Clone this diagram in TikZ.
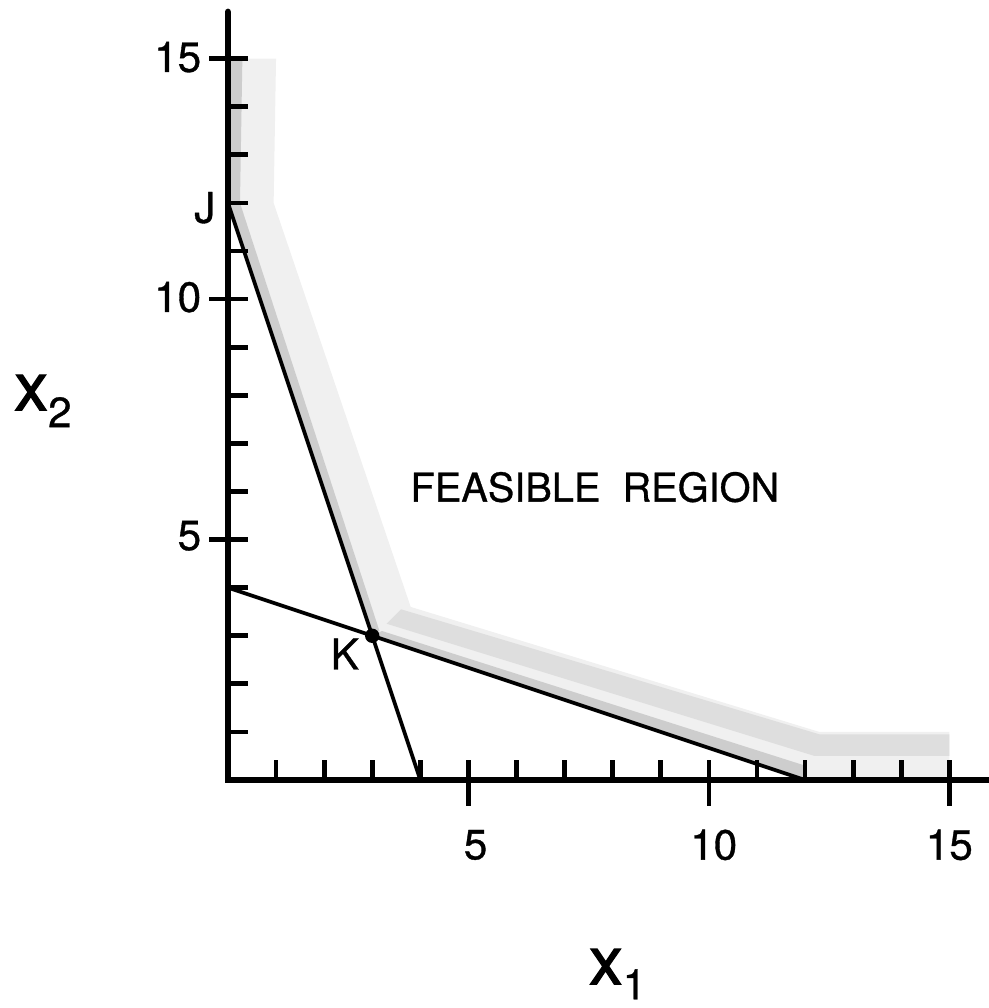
\documentclass[tikz,border=0pt]{standalone}
\usepackage{fontspec}
\setmainfont{TeX Gyre Heros}
\newfontfamily\lettering{TeX Gyre Heros}[FakeBold=0.8]
\newfontfamily\heavyletter{TeX Gyre Heros}[FakeBold=1.6]
\usepackage{tikz}
\usetikzlibrary{positioning,calc}
\definecolor{shadegray}{RGB}{205,205,205}
\definecolor{shademid}{RGB}{222,222,222}
\definecolor{shadelt}{RGB}{240,240,240}
\tikzset{
  axisline/.style={line width=4pt, line cap=round},
  tickmark/.style={line width=2.8pt},
  conline/.style={line width=2.2pt},
  ticklabel/.style={font=\lettering\fontsize{25}{29}\selectfont, inner sep=0pt},
  axislabel/.style={font=\heavyletter\fontsize{40}{44}\selectfont, inner sep=0pt, anchor=base west}
}

\begin{document}
\begin{tikzpicture}
  \useasboundingbox (-4.74,-4.74) rectangle (15.82,16.22);
  % Named points of the two constraints
  \coordinate (J) at (0,12);
  \coordinate (K) at (3,3);
  \coordinate (jfoot) at (4,0);
  \coordinate (kstart) at (0,4);
  \coordinate (kfoot) at (12,0);

  % Shaded band on the feasible side
  \fill[shadelt] (0,15) -- (1.0,15) -- (0.95,12) -- (3.8,3.6) -- (12.3,1.0)
      -- (15,1.0) -- (15,0) -- (12,0) -- (3,3) -- (0,12) -- cycle;
  \fill[shademid] (3.6,3.55) -- (12.3,0.95) -- (15,0.95) -- (15,0.5)
      -- (12.2,0.5) -- (3.3,3.25) -- cycle;
  \fill[shadegray] (0,15) -- (0.3,15) -- (0.25,12) -- (3.15,3.1)
      -- (3,3) -- (0,12) -- cycle;
  \fill[shadegray] (3,3) -- (3.2,3.1) -- (12,0.3) -- (12,0) -- cycle;

  % Axes
  \draw[axisline] (0,15.97) -- (0,0) -- (15.82,0);
  % Ticks
  \foreach \t in {1,...,15}{
    \draw[tickmark] (\t,0) -- (\t,0.42);
    \draw[tickmark] (0,\t) -- (0.42,\t);
  }
  \foreach \t in {5,10,15}{
    \draw[tickmark] (\t,0) -- (\t,-0.55);
    \draw[tickmark] (0,\t) -- (-0.4,\t);
  }
  % Tick labels
  \node[ticklabel] (xl5) at (5.15,-1.35) {5};
  \node[ticklabel] (xl10) at (10.1,-1.35) {10};
  \node[ticklabel] (xl15) at (15,-1.35) {15};
  \node[ticklabel, anchor=east] (yl15) at (-0.55,15.03) {15};
  \node[ticklabel, anchor=east] (yl10) at (-0.55,10.04) {10};
  \node[ticklabel, anchor=east] (yl5) at (-0.55,5.08) {5};

  % Constraint lines
  \draw[conline] (J) -- (jfoot);
  \draw[conline] (kstart) -- (kfoot);
  \fill (K) circle (0.15);

  % Labels
  \node[ticklabel] (jlab) at (-0.48,11.9) {J};
  \node[ticklabel] (klab) at (2.43,2.62) {K};
  \node[ticklabel, font=\lettering\fontsize{23.5}{28}\selectfont] (region) at (7.63,6.09) {FEASIBLE\ \ REGION};
  \node[axislabel] (xtwo) at (-4.45,7.69) {x\raisebox{-0.25em}{\lettering\fontsize{25}{29}\selectfont 2}};
  \node[axislabel] (xone) at (7.5,-4.25) {x\raisebox{-0.22em}{\lettering\fontsize{25}{29}\selectfont 1}};
\end{tikzpicture}
\end{document}
